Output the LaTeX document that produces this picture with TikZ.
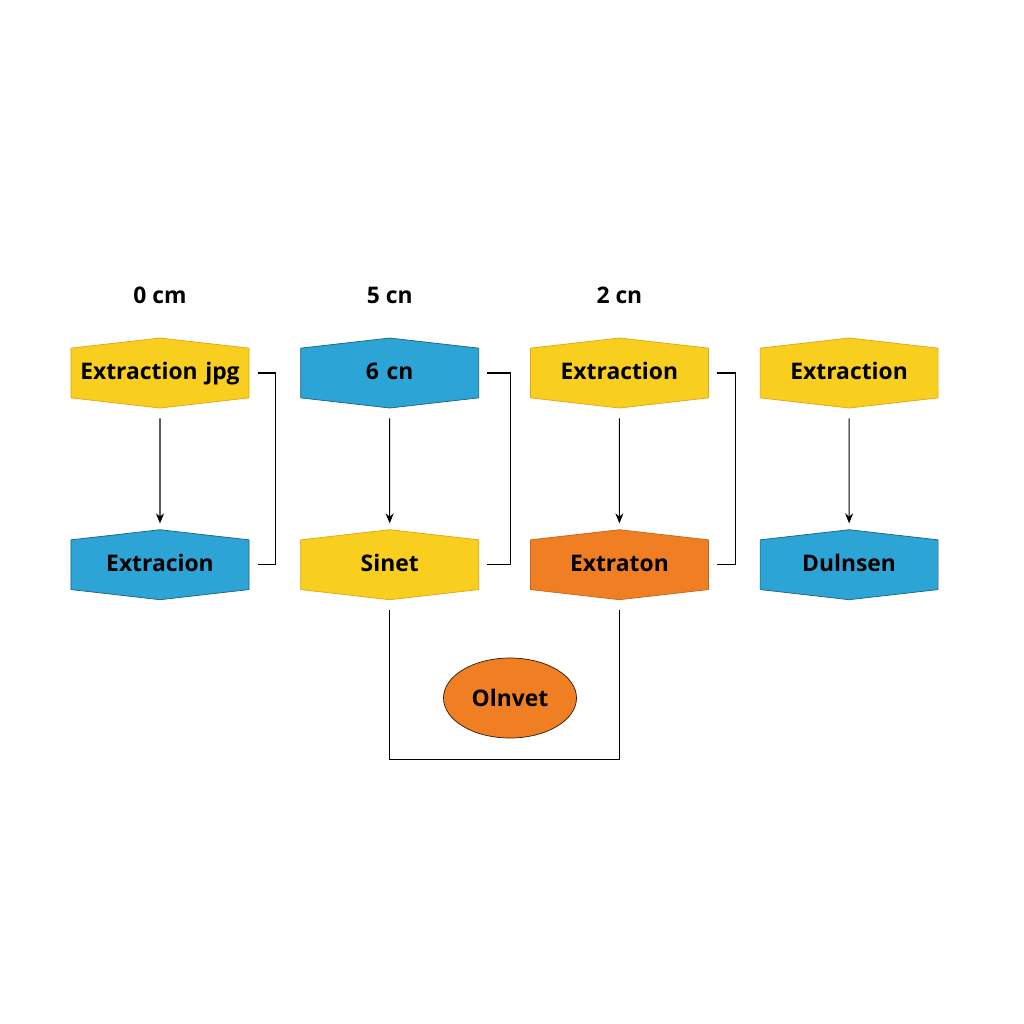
\documentclass[tikz,border=0pt]{standalone}
\usepackage{fontspec}
\setmainfont{Open Sans}
\usepackage{tikz}
\usetikzlibrary{shapes.geometric, shapes.symbols, arrows.meta, positioning}
\definecolor{hexyellow}{HTML}{F8CE1F}
\definecolor{hexblue}{HTML}{2CA4D5}
\definecolor{hexorange}{HTML}{F07F23}
\tikzset{
    hexbox/.style={signal, signal to=north and south, signal pointer angle=167, text width=3.3cm, align=center, text height=1.9ex, text depth=0.5ex, minimum width=3.56cm, minimum height=1.4cm, inner xsep=0.13cm, inner ysep=0pt, font=\bfseries\fontsize{13}{15}\selectfont},
    yellowbox/.style={hexbox, fill=hexyellow, draw=hexyellow!70!orange!90!black},
    bluebox/.style={hexbox, fill=hexblue, draw=hexblue!60!black},
    orangebox/.style={hexbox, fill=hexorange, draw=hexorange!80!black},
    caption/.style={font=\bfseries\fontsize{13}{15}\selectfont},
    arrow/.style={line width=0.6pt, ->, >={Stealth[length=2mm, width=1.6mm]}, shorten <=0.2cm, shorten >=0.12cm},
    link/.style={line width=0.6pt},
}
\begin{document}
\begin{tikzpicture}[node distance=1.02cm]
  \useasboundingbox[fill=white] (0,0) rectangle (20.48,-20.48);
  \node[yellowbox] (tA) at (3.2,-7.46) {Extraction jpg};
  \node[bluebox]   (tB) [right=of tA] {6 cn};
  \node[yellowbox] (tC) [right=of tB] {Extraction};
  \node[yellowbox] (tD) [right=of tC] {Extraction};

  \node[bluebox]   (bA) [below=2.42cm of tA] {Extracion};
  \node[yellowbox] (bB) [below=2.42cm of tB] {Sinet};
  \node[orangebox] (bC) [below=2.42cm of tC] {Extraton};
  \node[bluebox]   (bD) [below=2.42cm of tD] {Dulnsen};

  \node[caption] (lA) [above=0.55cm of tA] {0 cm};
  \node[caption] (lB) [above=0.55cm of tB] {5 cn};
  \node[caption] (lC) [above=0.55cm of tC] {2 cn};

  \node[ellipse, fill=hexorange, draw=black!80!hexorange, minimum width=2.66cm, minimum height=1.6cm, caption] (out) at (10.2,-13.96) {Olnvet};

  % arrows down each column
  \draw[arrow] (tA) -- (bA);
  \draw[arrow] (tB) -- (bB);
  \draw[arrow] (tC) -- (bC);
  \draw[arrow] (tD) -- (bD);

  % brackets
  \draw[link] ([xshift=0.18cm]tA.east) -- ++(0.34,0) |- ([xshift=0.18cm]bA.east);
  \draw[link] ([xshift=0.16cm]tB.east) -- ++(0.46,0) |- ([xshift=0.16cm]bB.east);
  \draw[link] ([xshift=0.16cm]tC.east) -- ++(0.38,0) |- ([xshift=0.16cm]bC.east);
  \draw[link] ([yshift=-0.2cm]bB.south) -- ++(0,-2.98) -| ([yshift=-0.2cm]bC.south);
\end{tikzpicture}
\end{document}
